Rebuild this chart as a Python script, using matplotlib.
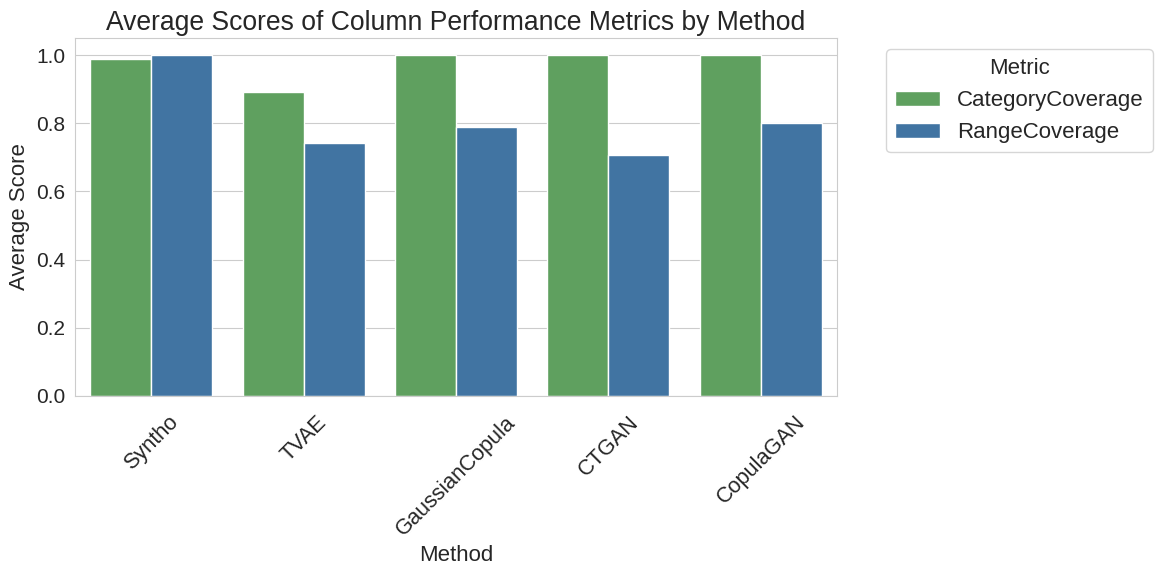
import matplotlib
matplotlib.use("Agg")
import matplotlib.pyplot as plt
import seaborn as sns
import pandas as pd

methods = ["Syntho", "TVAE", "GaussianCopula", "CTGAN", "CopulaGAN"]
metrics = ["CategoryCoverage", "RangeCoverage"]
category_coverage = [0.988, 0.891, 1.0, 1.0, 1.0]
range_coverage = [1.0, 0.743, 0.789, 0.707, 0.801]
colors = ["#5FA05F", "#4174A2"]

sns.set_style("whitegrid")
plt.rcParams['font.family'] = ['Liberation Sans', 'DejaVu Sans']

rows = []
for m, c, r in zip(methods, category_coverage, range_coverage):
    rows.append({"Method": m, "Metric": metrics[0], "Score": c})
    rows.append({"Method": m, "Metric": metrics[1], "Score": r})
df = pd.DataFrame(rows)

fig = plt.figure(figsize=(11.63, 5.72), dpi=100)
ax = fig.add_axes([0.0645, 0.3077, 0.6552, 0.6259])
sns.barplot(data=df, x="Method", y="Score", hue="Metric", palette=colors,
            saturation=1, ax=ax, edgecolor="white", linewidth=1)
ax.set_title("Average Scores of Column Performance Metrics by Method", fontsize=19.1)
ax.set_xlabel("Method", fontsize=16)
ax.set_ylabel("Average Score", fontsize=16)
ax.tick_params(axis='y', labelsize=15)
ax.tick_params(axis='x', labelsize=15.6, pad=8)
plt.setp(ax.get_xticklabels(), rotation=45)
ax.set_ylim(0, 1.05)
leg = ax.legend(title="Metric", fontsize=16, title_fontsize=16,
                bbox_to_anchor=(1.05, 1), loc="upper left")
fig.savefig("out.png", dpi=100)
